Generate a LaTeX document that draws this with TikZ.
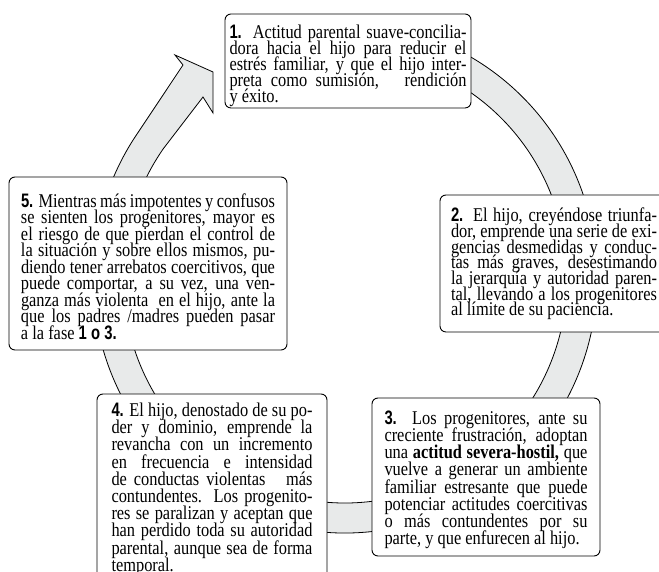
\documentclass[tikz,border=0pt]{standalone}
\usepackage{fontspec}
\setmainfont[FakeStretch=0.84]{Liberation Serif}
\newfontfamily\numfont[FakeStretch=0.76]{Liberation Sans}
\newlength\lw
\newcommand\bn[1]{{\numfont\bfseries #1}}
\newcommand\jl[1]{\hbox to\lw{\strut #1}}
\newcommand\lastl[1]{\hbox{\strut #1}}
\newcommand\btext[4]{\setlength\lw{#1}\vbox to #2{\lineskiplimit=-1000pt\relax\vskip #3\relax #4\vss}}
\definecolor{bandgray}{RGB}{232,234,234}
\tikzset{
  box/.style={draw, line width=0.9pt, rounded corners=6pt, fill=white, inner ysep=0pt, outer sep=0pt, anchor=north west},
  band/.style={draw, line width=0.8pt, fill=bandgray, line join=miter}
}
\begin{document}
\begin{tikzpicture}[x=1pt,y=1pt]
\useasboundingbox (0,0) rectangle (659,572);
\clip (0,0) rectangle (659,572);
\coordinate (C) at (345,294);
\coordinate (onotch) at (183,507);
\coordinate (barbA) at (175,517);
\coordinate (tip) at (213,500);
\coordinate (barbB) at (213,459);
\coordinate (inotch) at (203,475);
\draw[band] ([shift={(100:252pt and 255pt)}]C) arc[start angle=100,end angle=-215,x radius=252pt,y radius=255pt]
  -- (onotch) -- (barbA) -- (tip) -- (barbB) -- (inotch)
  -- ([shift={(145:222pt and 225pt)}]C) arc[start angle=-215,end angle=100,x radius=222pt,y radius=225pt] -- cycle;

\node[box, inner xsep=4.5pt, font=\fontsize{19.5}{16}\selectfont] (b1) at (225,558) {\btext{237pt}{94pt}{10.8pt}{%
\jl{\bn{1.} Actitud parental suave-concilia-}
\jl{dora hacia el hijo para reducir el}
\jl{estrés familiar, y que el hijo inter-}
\jl{preta como sumisión,\ \ \ rendición}
\lastl{y éxito.}}};

\node[box, inner xsep=11pt, font=\fontsize{19.5}{15.7}\selectfont] (b2) at (440,377) {\btext{206pt}{137pt}{13pt}{%
\jl{\bn{2.} El hijo, creyéndose triunfa-}
\jl{dor, emprende una serie de exi-}
\jl{gencias desmedidas y conduc-}
\jl{tas más graves, desestimando}
\jl{la jerarquía y autoridad paren-}
\jl{tal, llevando a los progenitores}
\lastl{al límite de su paciencia.}}};

\node[box, inner xsep=12.5pt, font=\fontsize{19.5}{17.1}\selectfont] (b3) at (372,174) {\btext{203pt}{158pt}{13pt}{%
\jl{\bn{3.} Los progenitores, ante su}
\jl{creciente frustración, adoptan}
\jl{una \textbf{actitud severa-hostil,} que}
\jl{vuelve a generar un ambiente}
\jl{familiar estresante que puede}
\jl{potenciar actitudes coercitivas}
\jl{o más contundentes por su}
\lastl{parte, y que enfurecen al hijo.}}};

\node[box, inner xsep=14.5pt, font=\fontsize{19.5}{17.2}\selectfont] (b4) at (97,178) {\btext{201pt}{200pt}{9pt}{%
\jl{\bn{4.} El hijo, denostado de su po-}
\jl{der y dominio, emprende la}
\jl{revancha con un incremento}
\jl{en frecuencia e intensidad}
\jl{de conductas violentas\ \ \ más}
\jl{contundentes. Los progenito-}
\jl{res se paralizan y aceptan que}
\jl{han perdido toda su autoridad}
\jl{parental, aunque sea de forma}
\lastl{temporal.}}};

\node[box, inner xsep=12pt, font=\fontsize{19.5}{16.5}\selectfont] (b5) at (9,395) {\btext{254pt}{173pt}{16.45pt}{%
\jl{\bn{5.} Mientras más impotentes y confusos}
\jl{se sienten los progenitores, mayor es}
\jl{el riesgo de que pierdan el control de}
\jl{la situación y sobre ellos mismos, pu-}
\jl{diendo tener arrebatos coercitivos, que}
\jl{puede comportar, a su vez, una ven-}
\jl{ganza más violenta \ en el hijo, ante la}
\jl{que los padres /madres pueden pasar}
\lastl{a la fase \bn{1 o 3.}}}};
\end{tikzpicture}
\end{document}
